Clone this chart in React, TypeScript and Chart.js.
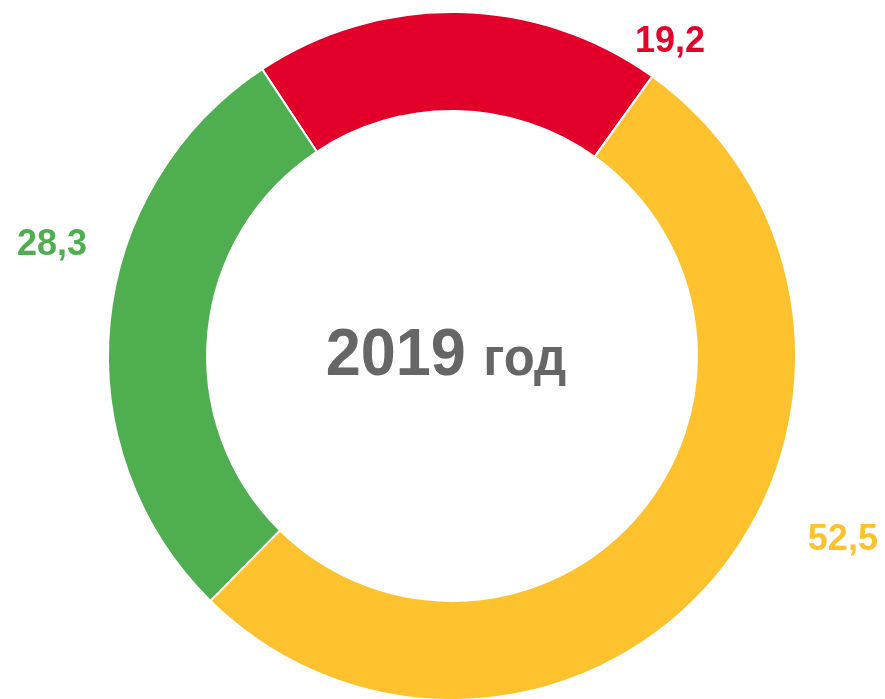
import React, { useEffect, useRef } from "react";
import { Chart, registerables } from "chart.js";

Chart.register(...registerables);

const categories = ["red", "yellow", "green"];
const values = [19.2, 52.5, 28.3];
const valueLabels = ["19,2", "52,5", "28,3"];
const colors = ["#E2002B", "#FEC22F", "#4FAE50"];
const centerYear = "2019";
const centerWord = "год";

// label placement relative to the doughnut centre (degrees from top clockwise, distance in px)
const labelAngles = [34.8, 115.2, -74.5];
const labelDistances = [382, 432, 415];

const FONT = "'Liberation Sans', Arial, sans-serif";

const labelPlugin = {
  id: "labelPlugin",
  afterDraw(chart: any) {
    const ctx = chart.ctx;
    const meta = chart.getDatasetMeta(0);
    const arc = meta.data[0];
    if (!arc) return;
    const cx = arc.x;
    const cy = arc.y;
    ctx.save();
    ctx.textAlign = "center";
    ctx.textBaseline = "middle";
    ctx.font = `bold 36px ${FONT}`;
    valueLabels.forEach((t, i) => {
      const a = (labelAngles[i] * Math.PI) / 180;
      const x = cx + Math.sin(a) * labelDistances[i];
      const y = cy - Math.cos(a) * labelDistances[i];
      ctx.fillStyle = colors[i];
      ctx.fillText(t, x, y);
    });
    // centre text (slightly condensed)
    const sx = 0.94;
    ctx.textAlign = "left";
    ctx.textBaseline = "alphabetic";
    ctx.fillStyle = "#666666";
    const f1 = `bold 67px ${FONT}`;
    const f2 = `bold 54px ${FONT}`;
    ctx.font = f1;
    const w1 = ctx.measureText(centerYear + " ").width;
    ctx.font = f2;
    const w2 = ctx.measureText(centerWord).width;
    const total = (w1 + w2) * sx;
    const start = cx - 6 - total / 2;
    const base = cy + 19;
    ctx.translate(start, base);
    ctx.scale(sx, 1);
    ctx.font = f1;
    ctx.fillText(centerYear + " ", 0, 0);
    ctx.font = f2;
    ctx.fillText(centerWord, w1, 0);
    ctx.restore();
  },
};

export default function App() {
  const ref = useRef<HTMLCanvasElement>(null);
  useEffect(() => {
    if (!ref.current) return;
    const chart = new Chart(ref.current, {
      type: "doughnut",
      data: {
        labels: categories,
        datasets: [
          {
            data: values,
            backgroundColor: colors,
            borderColor: "#ffffff",
            borderWidth: 2,
            hoverOffset: 0,
            offset: 0,
          },
        ],
      },
      options: {
        responsive: false,
        animation: false,
        rotation: -33.5,
        radius: 344,
        cutout: 243.5,
        layout: { padding: { left: 19, right: 0, top: 13, bottom: 0 } },
        plugins: {
          legend: { display: false },
          tooltip: { enabled: false },
        },
      },
      plugins: [labelPlugin],
    });
    return () => chart.destroy();
  }, []);
  return (
    <div style={{ position: "fixed", left: 0, top: 0, width: 885, height: 699, background: "#fff" }}>
      <canvas ref={ref} width={885} height={699} />
    </div>
  );
}
